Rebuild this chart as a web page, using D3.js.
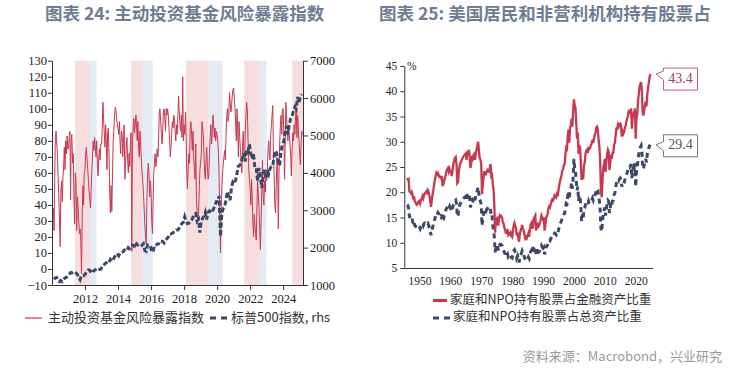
<!DOCTYPE html>
<html><head><meta charset="utf-8">
<script src="https://cdn.jsdelivr.net/npm/d3@7"></script>
<style>body{margin:0;background:#fff} svg{display:block}</style>
</head><body><svg id="chart" width="730" height="374"></svg>
<script>
// ---- left chart data: fund risk exposure index, semi-monthly from Feb 2010
var riskIdx = [
  38, 24, 55, 82, 86, 78, 72, 58, 45, 30, 14, 48, 55, 42, 58, 65, 76, 62, 80, 72, 83, 75,            // 2010
  75, 82, 86, 43, 80, 84, 66, 72, 45, 28, 60, 55, 24, 45, 38, 30, 22, 25, 18, -3, 35, 52, 40, 60,  // 2011
  62, 72, 76, 68, 63, 55, 48, 44, 38, 50, 62, 72, 80, 74, 82, 76, 70, 80, 64, 58, 70, 75, 68, 78,  // 2012
  78, 88, 104, 93, 86, 76, 90, 80, 62, 85, 88, 70, 48, 35, 52, 36, 60, 80, 88, 96, 101, 99, 94, 90, // 2013
  88, 84, 92, 78, 72, 86, 84, 70, 80, 90, 56, 66, 76, 82, 68, 60, 72, 64, 80, 85, 11, 78, 88, 94,  // 2014
  85, 90, 96, 88, 80, 92, 75, 70, 86, 78, 68, 60, 55, 48, 38, 28, 20, 16, 42, 58, 66, 60, 45, 55,  // 2015
  48, 30, 22, 42, 60, 66, 72, 64, 68, 75, 70, 80, 98, 100, 92, 84, 78, 88, 98, 100, 94, 86, 100, 96, // 2016
  100, 96, 88, 80, 70, 76, 84, 92, 88, 96, 94, 86, 80, 90, 84, 95, 108, 98, 90, 86, 96, 82, 120, 80, // 2017
  90, 84, 98, 82, 60, 50, 62, 72, 66, 88, 92, 84, 74, 86, 70, 62, 56, 78, 44, 36, 30, 34, 48, 62,  // 2018
  66, 72, 92, 88, 84, 72, 60, 56, 68, 76, 64, 56, 58, 72, 82, 90, 78, 86, 96, 90, 82, 88, 80, 86,  // 2019
  84, 80, 72, 55, 30, 10, 38, 52, 60, 66, 70, 74, 68, 82, 95, 100, 92, 96, 110, 104, 98, 102, 108, 112, // 2020
  113, 106, 100, 90, 80, 100, 86, 70, 92, 82, 74, 66, 60, 76, 86, 72, 68, 88, 96, 104, 98, 80, 62, 56, // 2021
  50, 40, 56, 45, 30, 20, 34, 28, 22, 18, 40, 55, 46, 38, 24, 12, 30, 50, 68, 45, 40, 55, 48, 60,  // 2022
  55, 62, 75, 80, 72, 68, 84, 90, 96, 102, 70, 58, 40, 35, 52, 70, 64, 25, 60, 78, 90, 96, 84, 100, // 2023
  100, 82, 56, 78, 104, 96, 86, 80, 90, 84, 78, 70, 58, 74, 85, 80, 90, 84, 95, 100, 82, 96, 88, 80, // 2024
  72, 65, 78, 86, 84                                                                               // 2025
];

// S&P 500, monthly from Feb 2010 (rhs)
var spx = [
  1150, 1190, 1200, 1110, 1090, 1120, 1090, 1150, 1190, 1200, 1255,
  1290, 1330, 1325, 1360, 1345, 1320, 1290, 1200, 1140, 1250, 1240, 1255,
  1310, 1365, 1405, 1395, 1315, 1360, 1380, 1405, 1440, 1410, 1415, 1425,
  1495, 1515, 1570, 1595, 1630, 1605, 1685, 1635, 1680, 1755, 1805, 1845,
  1785, 1860, 1870, 1885, 1925, 1960, 1930, 2000, 1970, 2015, 2065, 2060,
  1995, 2105, 2070, 2085, 2105, 2065, 2105, 1920, 1900, 2080, 2080, 2045,
  1900, 1880, 2060, 2065, 2095, 2100, 2175, 2170, 2165, 2125, 2200, 2240,
  2280, 2365, 2365, 2385, 2410, 2425, 2470, 2470, 2520, 2575, 2650, 2675,
  2825, 2710, 2640, 2650, 2705, 2720, 2815, 2900, 2915, 2710, 2760, 2400,
  2700, 2785, 2835, 2945, 2750, 2940, 2980, 2925, 2975, 3035, 3140, 3230,
  3225, 3380, 2300, 2910, 3045, 3100, 3270, 3500, 3365, 3270, 3620, 3755,
  3715, 3810, 3975, 4180, 4205, 4300, 4395, 4525, 4305, 4605, 4565, 4765,
  4515, 4375, 4530, 4130, 4130, 3785, 4130, 3955, 3590, 3870, 4080, 3840,
  4075, 3970, 4110, 4170, 4180, 4450, 4590, 4510, 4290, 4195, 4570, 4770,
  4845, 5095, 5255, 5035, 5275, 5460, 5520, 5650, 5760, 5705, 6030, 5880,
  6040, 6100
];

// shaded periods (decimal years)
var bandsRed = [[2011.39, 2012.3], [2014.8, 2015.45], [2018.12, 2019.47], [2021.64, 2022.6], [2024.55, 2025.2]];
var bandsBlue = [[2012.3, 2012.7], [2015.45, 2016.1], [2019.47, 2020.34], [2022.6, 2023.0]];

// ---- right chart data: quarterly from 1946Q1, % share
var shareFin = [
  22.8, 22.5, 22.6, 20.2, 20.0, 19.8, 20.1, 19.6, 18.6, 19.2, 18.2, 18.0, 17.6, 17.5, 17.9, 18.2,
  18.3, 17.8, 18.5, 18.6, 19.2, 18.8, 19.5, 19.7, 20.0, 20.2, 19.9, 20.4, 20.0, 19.3, 18.2, 17.1,
  18.4, 19.5, 20.4, 21.5, 22.4, 23.2, 23.8, 23.5, 23.8, 23.4, 23.0, 23.1, 22.8, 23.2, 21.2, 21.6,
  22.2, 22.8, 23.4, 24.2, 24.5, 24.8, 24.1, 24.6, 24.0, 23.8, 23.2, 24.6, 25.6, 26.4, 26.8, 27.0,
  25.5, 21.8, 22.0, 24.2, 25.2, 25.8, 26.0, 26.5, 26.8, 27.1, 27.3, 27.5, 27.7, 26.4, 27.6, 28.0,
  28.4, 27.2, 24.8, 25.6, 26.8, 26.6, 27.4, 27.6, 26.4, 28.0, 28.4, 29.2, 30.0, 28.2, 26.8, 26.4,
  25.6, 19.6, 21.5, 22.8, 24.2, 23.8, 23.6, 24.0, 24.4, 24.2, 24.1, 24.8, 25.6, 23.2, 23.4, 21.6,
  20.5, 17.2, 12.0, 14.8, 13.5, 15.2, 13.4, 14.6, 15.4, 15.2, 15.3, 15.0, 14.0, 13.8, 12.9, 12.6,
  11.8, 12.4, 12.5, 11.6, 11.9, 11.7, 12.0, 11.3, 11.1, 12.2, 13.4, 13.9, 13.3, 13.0, 11.4, 12.0,
  11.0, 10.2, 11.8, 12.4, 12.9, 13.5, 12.8, 12.4, 11.6, 10.9, 11.2, 10.9, 11.3, 11.8, 11.2, 12.6,
  13.6, 13.9, 12.8, 13.2, 14.8, 15.1, 15.4, 12.4, 13.2, 13.6, 13.2, 13.4, 14.0, 14.6, 15.4, 15.0,
  14.6, 15.0, 12.4, 13.4, 15.0, 15.2, 15.8, 16.8, 17.2, 17.0, 17.6, 18.2, 18.6, 18.4, 18.8, 19.4,
  19.2, 19.0, 19.6, 19.2, 20.4, 21.4, 22.2, 22.8, 23.4, 24.2, 24.6, 25.4, 25.6, 27.4, 28.8, 28.6,
  31.0, 32.4, 29.8, 32.8, 33.2, 34.6, 33.0, 36.2, 38.4, 37.2, 36.8, 33.8, 30.6, 31.8, 27.6, 29.2,
  29.0, 25.6, 22.4, 23.6, 22.6, 25.4, 25.8, 27.6, 28.2, 28.4, 27.8, 29.0, 28.6, 28.8, 29.4, 29.6,
  30.4, 29.8, 30.6, 31.4, 31.8, 32.8, 33.0, 32.4, 30.2, 29.0, 26.2, 20.4, 19.0, 22.4, 24.8, 25.6,
  26.6, 24.0, 26.2, 27.6, 28.4, 28.0, 24.4, 25.8, 27.4, 26.6, 27.8, 27.8, 29.4, 29.8, 31.2, 32.6,
  32.6, 33.4, 33.0, 33.4, 33.6, 33.2, 31.0, 32.0, 31.6, 32.0, 32.8, 33.2, 34.0, 34.6, 35.2, 36.0,
  35.8, 36.0, 36.6, 32.6, 34.8, 35.4, 35.0, 36.6, 30.6, 34.6, 35.4, 38.2, 39.4, 41.0, 41.4, 41.8,
  40.0, 35.8, 35.2, 36.2, 37.2, 38.0, 37.0, 39.4, 40.6, 41.8, 42.8, 43.4
];
var shareTot = [
  17.5, 17.4, 16.8, 15.2, 15.0, 14.8, 15.1, 14.4, 13.6, 14.0, 13.4, 13.3, 13.1, 13.0, 13.3, 13.4,
  13.2, 12.8, 13.2, 13.4, 13.8, 13.4, 13.8, 13.9, 13.8, 13.9, 13.6, 13.8, 13.4, 12.9, 12.2, 11.5,
  12.4, 13.0, 13.6, 14.2, 14.8, 15.4, 15.8, 15.6, 16.0, 15.8, 15.4, 15.6, 15.2, 15.6, 14.4, 14.6,
  15.4, 15.8, 16.4, 16.8, 17.0, 17.2, 16.8, 17.2, 16.8, 16.6, 16.2, 17.0, 17.6, 18.0, 18.2, 18.4,
  17.8, 15.2, 15.4, 16.8, 17.4, 17.8, 18.0, 18.3, 18.6, 18.8, 18.9, 19.1, 19.2, 18.4, 19.3, 19.6,
  19.8, 19.0, 17.0, 17.6, 18.4, 18.3, 19.0, 19.1, 18.4, 19.6, 19.8, 20.4, 21.0, 19.6, 18.6, 18.2,
  17.6, 13.4, 14.8, 15.8, 16.6, 16.4, 16.2, 16.6, 16.8, 16.7, 16.6, 17.0, 16.4, 15.4, 15.6, 13.2,
  12.6, 11.0, 8.1, 9.4, 8.6, 9.6, 8.5, 9.2, 9.6, 9.5, 9.6, 9.4, 8.8, 8.6, 8.0, 7.8,
  7.2, 7.6, 7.8, 7.2, 7.4, 7.3, 7.5, 7.1, 7.0, 7.8, 8.4, 8.6, 8.2, 8.0, 7.0, 7.4,
  6.8, 6.1, 7.2, 7.6, 7.9, 8.4, 8.0, 7.6, 7.1, 6.6, 6.9, 6.7, 6.9, 7.2, 6.9, 7.7,
  8.2, 8.5, 7.8, 8.1, 8.9, 9.1, 9.3, 7.6, 8.0, 8.3, 8.1, 8.2, 8.6, 8.9, 9.4, 9.1,
  8.9, 9.1, 7.7, 8.2, 9.2, 9.3, 9.7, 10.3, 10.5, 10.4, 10.8, 11.1, 11.4, 11.3, 11.5, 11.9,
  11.8, 11.6, 12.0, 11.8, 12.5, 13.1, 13.6, 14.0, 14.4, 14.9, 15.1, 15.6, 15.8, 16.9, 17.8, 17.7,
  19.3, 20.2, 18.6, 20.5, 20.8, 21.8, 20.7, 22.8, 26.6, 24.6, 24.2, 22.3, 20.4, 21.1, 18.3, 19.4,
  19.2, 17.0, 14.2, 15.6, 14.8, 16.6, 16.9, 17.6, 17.8, 17.9, 17.5, 18.2, 17.8, 17.9, 18.2, 18.3,
  18.8, 18.4, 18.9, 19.4, 19.7, 20.5, 20.7, 20.4, 19.1, 18.3, 16.4, 12.8, 12.2, 14.2, 15.8, 16.4,
  17.0, 15.4, 16.8, 17.8, 18.4, 18.2, 15.9, 16.9, 18.0, 17.5, 18.3, 18.4, 19.5, 19.8, 20.8, 21.8,
  21.9, 22.5, 22.3, 22.6, 22.8, 22.5, 21.1, 21.8, 21.6, 21.9, 22.5, 22.8, 23.4, 23.9, 24.4, 25.0,
  24.9, 25.1, 25.6, 22.8, 24.4, 24.9, 24.6, 25.8, 21.1, 24.0, 24.6, 26.6, 27.6, 28.6, 28.9, 29.2,
  28.0, 25.0, 24.6, 25.3, 26.0, 26.6, 25.9, 27.6, 28.2, 28.8, 29.2, 29.4
];

var leftTicksY = d3.range(-10, 131, 10);
var rightTicksY = d3.range(1000, 7001, 1000);
var leftTicksX = [2012, 2014, 2016, 2018, 2020, 2022, 2024];
var pctTicksY = [5, 10, 15, 20, 25, 30, 35, 40, 45];
var yearTicks = [1950, 1960, 1970, 1980, 1990, 2000, 2010, 2020];

var RED = "#c8384e", NAVY = "#3b4866", TITLE = "#6e7d95";
var CJK = "'Noto Sans CJK SC', sans-serif";
var SERIF = "'Liberation Serif', 'DejaVu Serif', serif";

var svg = d3.select("#chart");

function yearToDate(y) {
    var yr = Math.floor(y);
    var a = new Date(yr, 0, 1), b = new Date(yr + 1, 0, 1);
    return new Date(+a + (y - yr) * (b - a));
}

// titles
svg.append("text").attr("x", 45).attr("y", 15).attr("dominant-baseline", "middle")
    .attr("font-family", CJK).attr("font-weight", "bold").attr("font-size", 17.5).attr("fill", TITLE)
    .text("图表 24: 主动投资基金风险暴露指数");
svg.append("text").attr("x", 379).attr("y", 15).attr("dominant-baseline", "middle")
    .attr("font-family", CJK).attr("font-weight", "bold").attr("font-size", 17.5).attr("fill", TITLE)
    .text("图表 25: 美国居民和非营利机构持有股票占");

/* ------------ left chart ------------ */
var x1 = d3.scaleTime().domain([new Date(2010, 0, 1), new Date(2025, 2, 15)]).range([52, 303]);
var y1 = d3.scaleLinear().domain([-10, 130]).range([285, 60.7]);
var y1r = d3.scaleLinear().domain([1000, 7000]).range([285, 60.7]);

var g1 = svg.append("g");

g1.selectAll("rect.bred").data(bandsRed).enter().append("rect")
    .attr("class", "bred")
    .attr("x", function(d){ return x1(yearToDate(d[0])); })
    .attr("width", function(d){ return x1(yearToDate(d[1])) - x1(yearToDate(d[0])); })
    .attr("y", y1(130)).attr("height", y1(-10) - y1(130))
    .attr("fill", "#f6dede");
g1.selectAll("rect.bblue").data(bandsBlue).enter().append("rect")
    .attr("class", "bblue")
    .attr("x", function(d){ return x1(yearToDate(d[0])); })
    .attr("width", function(d){ return x1(yearToDate(d[1])) - x1(yearToDate(d[0])); })
    .attr("y", y1(130)).attr("height", y1(-10) - y1(130))
    .attr("fill", "#e5ebf4");

var riskLine = d3.line()
    .x(function(d, i){ return x1(new Date(2010, 1 + Math.floor(i / 2), i % 2 ? 16 : 1)); })
    .y(function(d){ return y1(d); });
g1.append("path").datum(riskIdx).attr("d", riskLine)
    .attr("fill", "none").attr("stroke", RED).attr("stroke-width", 1);

var spxLine = d3.line()
    .x(function(d, i){ return x1(new Date(2010, 1 + i, 15)); })
    .y(function(d){ return y1r(d); });
g1.append("path").datum(spx).attr("d", spxLine)
    .attr("fill", "none").attr("stroke", NAVY).attr("stroke-width", 3)
    .attr("stroke-dasharray", "5,2.5");

function styleAxis(g, size) {
    g.selectAll("path, line").attr("stroke", "#333");
    g.selectAll("text").style("font-family", SERIF).style("font-size", size + "px").attr("fill", "#222");
}

g1.append("g").attr("transform", "translate(52,0)")
    .call(d3.axisLeft(y1).tickValues(leftTicksY).tickSize(4).tickPadding(1).tickSizeOuter(0))
    .call(styleAxis, 12.5);
g1.append("g").attr("transform", "translate(303,0)")
    .call(d3.axisRight(y1r).tickValues(rightTicksY).tickFormat(d3.format("d")).tickSize(5).tickPadding(2).tickSizeOuter(0))
    .call(styleAxis, 12.5);
g1.append("g").attr("transform", "translate(0,285)")
    .call(d3.axisBottom(x1).tickValues(leftTicksX.map(function(y){ return new Date(y, 0, 1); }))
        .tickFormat(d3.timeFormat("%Y")).tickSize(5).tickPadding(4).tickSizeOuter(0))
    .call(styleAxis, 12.5);

// legend left
g1.append("line").attr("x1", 25).attr("x2", 42).attr("y1", 318).attr("y2", 318)
    .attr("stroke", RED).attr("stroke-width", 1.2);
g1.append("text").attr("x", 48).attr("y", 318).attr("dominant-baseline", "middle")
    .attr("font-family", CJK).attr("font-size", 13).attr("fill", "#333").text("主动投资基金风险暴露指数");
g1.append("line").attr("x1", 210).attr("x2", 228).attr("y1", 318).attr("y2", 318)
    .attr("stroke", NAVY).attr("stroke-width", 3).attr("stroke-dasharray", "6,5");
g1.append("text").attr("x", 231).attr("y", 318).attr("dominant-baseline", "middle")
    .attr("font-family", CJK).attr("font-size", 13).attr("fill", "#333").text("标普500指数, rhs");

/* ------------ right chart ------------ */
var x2 = d3.scaleLinear().domain([1945.1, 2025.5]).range([404.3, 652.7]);
var y2 = d3.scaleLinear().domain([5, 45]).range([268, 66]);
var g2 = svg.append("g");

function qx(d, i){ return x2(1946 + i / 4); }

g2.append("path").datum(shareTot)
    .attr("d", d3.line().x(qx).y(function(d){ return y2(d); }))
    .attr("fill", "none").attr("stroke", NAVY).attr("stroke-width", 3)
    .attr("stroke-dasharray", "5,4");
g2.append("path").datum(shareFin)
    .attr("d", d3.line().x(qx).y(function(d){ return y2(d); }))
    .attr("fill", "none").attr("stroke", RED).attr("stroke-width", 2.3);

g2.append("g").attr("transform", "translate(404.3,0)")
    .call(d3.axisLeft(y2).tickValues(pctTicksY).tickSize(4).tickPadding(3).tickSizeOuter(0))
    .call(styleAxis, 11.5);
g2.append("g").attr("transform", "translate(0,268)")
    .call(d3.axisBottom(x2).tickValues(yearTicks).tickFormat(d3.format("d")).tickSize(0).tickPadding(9).tickSizeOuter(0))
    .call(styleAxis, 11.5);
g2.append("text").attr("x", 407).attr("y", 67).attr("dominant-baseline", "middle")
    .style("font-family", SERIF).style("font-size", "11.5px").attr("fill", "#222").text("%");

// end-value callouts
var lastFin = shareFin[shareFin.length - 1], lastTot = shareTot[shareTot.length - 1];
function callout(val, dy, stroke, color) {
    var ty = y2(val), tx = 656, bx = 663.5, bw = 34, bh = 22;
    var top = ty + dy - bh / 2;
    var p = d3.path();
    p.moveTo(bx, top); p.lineTo(bx + bw, top); p.lineTo(bx + bw, top + bh); p.lineTo(bx, top + bh);
    p.lineTo(bx, ty + 6); p.lineTo(tx, ty); p.lineTo(bx, ty - 3); p.closePath();
    g2.append("path").attr("d", p.toString()).attr("fill", "#fff").attr("stroke", stroke).attr("stroke-width", 1);
    g2.append("text").attr("x", bx + bw / 2).attr("y", top + bh / 2 + 0.5).attr("text-anchor", "middle")
        .attr("dominant-baseline", "middle").style("font-family", SERIF).style("font-size", "14px")
        .attr("fill", color).text(d3.format(".1f")(val));
}
callout(lastFin, 5, "#c8586a", "#a8404f");
callout(lastTot, 1, "#777", "#555");

// legend right
g2.append("line").attr("x1", 433).attr("x2", 447).attr("y1", 300.5).attr("y2", 300.5)
    .attr("stroke", RED).attr("stroke-width", 3);
g2.append("text").attr("x", 450).attr("y", 300.5).attr("dominant-baseline", "middle")
    .attr("font-family", CJK).attr("font-size", 12.5).attr("fill", "#333").text("家庭和NPO持有股票占金融资产比重");
g2.append("line").attr("x1", 433).attr("x2", 450).attr("y1", 318).attr("y2", 318)
    .attr("stroke", NAVY).attr("stroke-width", 3).attr("stroke-dasharray", "6,5");
g2.append("text").attr("x", 453).attr("y", 318).attr("dominant-baseline", "middle")
    .attr("font-family", CJK).attr("font-size", 12.5).attr("fill", "#333").text("家庭和NPO持有股票占总资产比重");

// source
svg.append("text").attr("x", 722).attr("y", 357).attr("text-anchor", "end").attr("dominant-baseline", "middle")
    .attr("font-family", CJK).attr("font-size", 13).attr("fill", "#999").text("资料来源：Macrobond，兴业研究");
</script></body></html>
